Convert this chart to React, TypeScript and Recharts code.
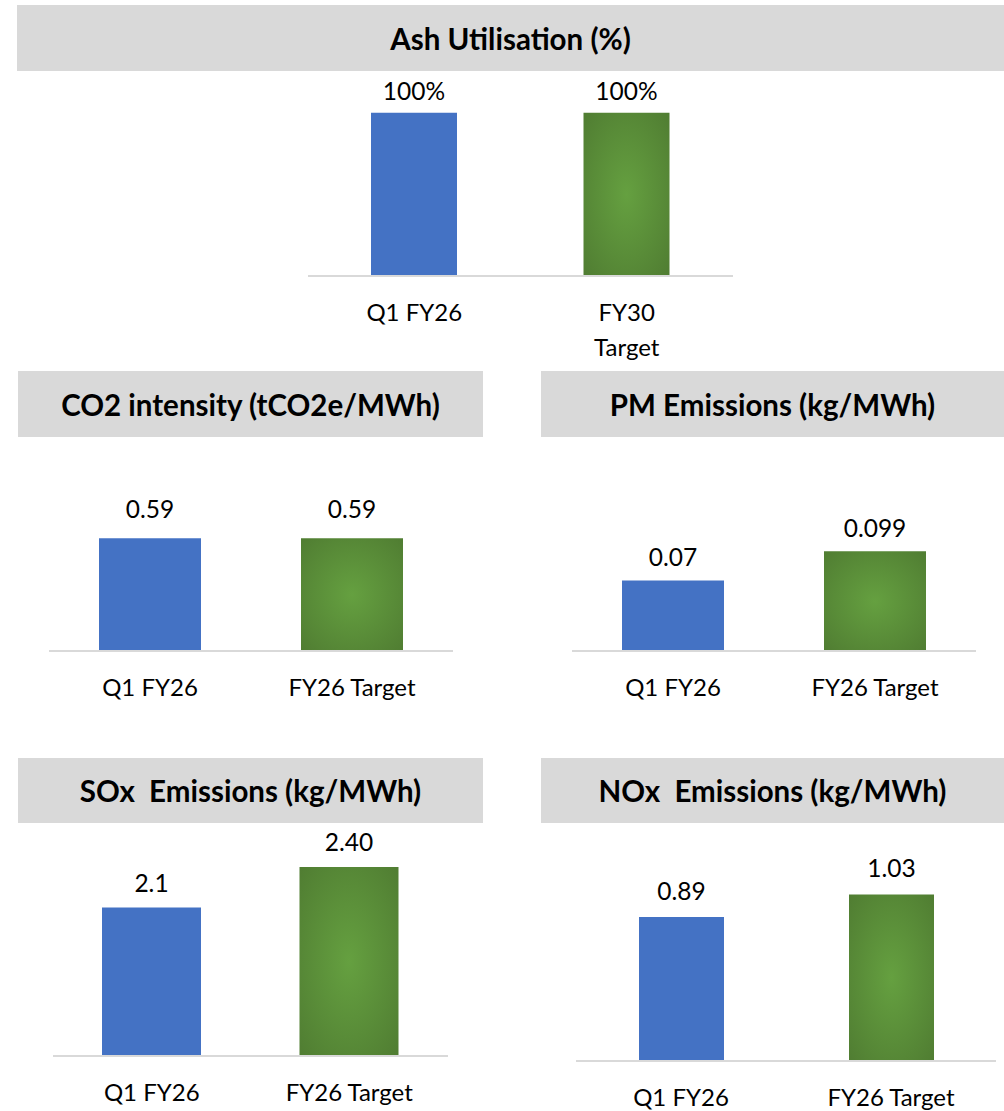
import React from 'react';
import { BarChart, Bar, XAxis, YAxis, LabelList, Cell } from 'recharts';

// --- data ---
const ashCategories = ['Q1 FY26', 'FY30 Target'];
const ashValues = [100, 100];
const ashLabels = ['100%', '100%'];

const co2Categories = ['Q1 FY26', 'FY26 Target'];
const co2Values = [0.59, 0.59];
const co2Labels = ['0.59', '0.59'];

const pmCategories = ['Q1 FY26', 'FY26 Target'];
const pmValues = [0.07, 0.099];
const pmLabels = ['0.07', '0.099'];

const soxCategories = ['Q1 FY26', 'FY26 Target'];
const soxValues = [2.1, 2.4];
const soxLabels = ['2.1', '2.40'];

const noxCategories = ['Q1 FY26', 'FY26 Target'];
const noxValues = [0.89, 1.03];
const noxLabels = ['0.89', '1.03'];

const BLUE = '#4472C4';
const GREY = '#D9D9D9';
const FONT = 'Lato, "Open Sans", sans-serif';

type PanelProps = {
  id: string;
  title: string;
  categories: string[];
  values: number[];
  labels: string[];
  domain: [number, number];
  // layout
  barLeft: number; barTop: number; barRight: number; barBottom: number;
  axisLeft: number; axisRight: number; plotTop: number; axisY: number;
  barSize: number;
  labelOffset: number;
  wrapTicks?: boolean;
};

// long labels wrap onto two lines in the narrow first chart
const CategoryTick = (props: any) => {
  const { x, y, payload, wrap } = props;
  const text = String(payload.value);
  const lines: string[] = wrap && text.length > 8 ? text.split(' ') : [text];
  return (
    <text x={x} y={y} textAnchor="middle" fill="#000" fontSize={24} fontFamily={FONT}>
      {lines.map((l, i) => (
        <tspan key={i} x={x} dy={i === 0 ? 37 : 35}>{l}</tspan>
      ))}
    </text>
  );
};

const Panel: React.FC<PanelProps> = (p) => {
  const data = p.categories.map((c, i) => ({ name: c, value: p.values[i], label: p.labels[i] }));
  const width = p.axisRight - p.axisLeft;
  const marginTop = p.plotTop - p.barBottom;
  const xh = 100;
  const height = marginTop + (p.axisY - p.plotTop) + xh;
  return (
    <>
      <div
        style={{
          position: 'absolute', left: p.barLeft, top: p.barTop,
          width: p.barRight - p.barLeft, height: p.barBottom - p.barTop,
          background: GREY, display: 'flex', alignItems: 'center', justifyContent: 'center',
          fontFamily: FONT, fontWeight: 700, fontSize: 29.5, color: '#000', whiteSpace: 'pre',
        }}
      >
        {p.title}
      </div>
      <div style={{ position: 'absolute', left: p.axisLeft, top: p.barBottom }}>
        <BarChart width={width} height={height} data={data}
          margin={{ top: marginTop, right: 0, left: 0, bottom: 0 }}>
          <defs>
            <radialGradient id={`green-${p.id}`} cx="50%" cy="50%" r="70%">
              <stop offset="0%" stopColor="#65A040" />
              <stop offset="100%" stopColor="#507D32" />
            </radialGradient>
          </defs>
          <XAxis dataKey="name" height={xh} axisLine={{ stroke: GREY, strokeWidth: 2 }} tickLine={false}
            interval={0} tick={<CategoryTick wrap={p.wrapTicks} />} />
          <YAxis hide domain={p.domain} allowDataOverflow />
          <Bar dataKey="value" barSize={p.barSize} isAnimationActive={false}>
            {data.map((d, i) => (
              <Cell key={d.name} fill={i === 0 ? BLUE : `url(#green-${p.id})`} />
            ))}
            <LabelList dataKey="label" position="top" offset={p.labelOffset}
              fill="#000" fontSize={24.5} fontFamily={FONT} />
          </Bar>
        </BarChart>
      </div>
    </>
  );
};

export default function App() {
  return (
    <div style={{ position: 'absolute', left: 0, top: 0, width: 1004, height: 1111, background: '#fff', overflow: 'hidden' }}>
      <Panel id="ash" title="Ash Utilisation (%)" categories={ashCategories} values={ashValues} labels={ashLabels}
        domain={[0, 120]} barLeft={17} barTop={5} barRight={1004} barBottom={71}
        axisLeft={308} axisRight={733} plotTop={80} axisY={276} barSize={86} labelOffset={13} wrapTicks />
      <Panel id="co2" title="CO2 intensity (tCO2e/MWh)" categories={co2Categories} values={co2Values} labels={co2Labels}
        domain={[0, 0.8]} barLeft={18} barTop={371} barRight={483} barBottom={437}
        axisLeft={49} axisRight={453} plotTop={498} axisY={651} barSize={102} labelOffset={20} />
      <Panel id="pm" title="PM Emissions (kg/MWh)" categories={pmCategories} values={pmValues} labels={pmLabels}
        domain={[0, 0.12]} barLeft={541} barTop={371} barRight={1004} barBottom={437}
        axisLeft={572} axisRight={976} plotTop={530} axisY={651} barSize={102} labelOffset={14} />
      <Panel id="sox" title="SOx  Emissions (kg/MWh)" categories={soxCategories} values={soxValues} labels={soxLabels}
        domain={[1, 2.6]} barLeft={18} barTop={758} barRight={483} barBottom={823}
        axisLeft={53} axisRight={448} plotTop={840} axisY={1056} barSize={99} labelOffset={16} />
      <Panel id="nox" title="NOx  Emissions (kg/MWh)" categories={noxCategories} values={noxValues} labels={noxLabels}
        domain={[0, 1.2]} barLeft={541} barTop={758} barRight={1004} barBottom={823}
        axisLeft={576} axisRight={996} plotTop={867} axisY={1061} barSize={85} labelOffset={17} />
    </div>
  );
}
